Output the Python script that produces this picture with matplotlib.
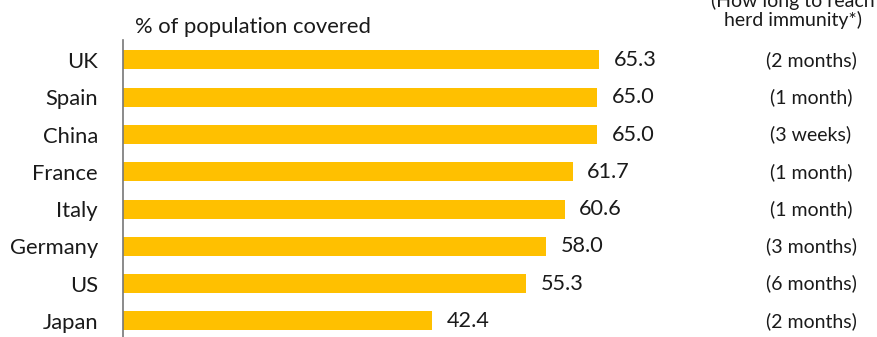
import matplotlib.pyplot as plt
import matplotlib.transforms as mtransforms

# --- data ---
countries = ['UK', 'Spain', 'China', 'France', 'Italy', 'Germany', 'US', 'Japan']
coverage = [65.3, 65.0, 65.0, 61.7, 60.6, 58.0, 55.3, 42.4]
time_to_immunity = ['(2 months)', '(1 month)', '(3 weeks)', '(1 month)',
                    '(1 month)', '(3 months)', '(6 months)', '(2 months)']

W, H = 877, 337
plt.rcParams['font.family'] = ['Lato', 'DejaVu Sans']
text_col = '#1a1a1a'

fig = plt.figure(figsize=(W / 100, H / 100), dpi=100)
# axes from pixel x=123 to right edge, y=40 down to the bottom
ax = fig.add_axes([123 / W, 0, 1 - 123 / W, (H - 40) / H])

pos = list(range(len(countries)))
ax.barh(pos, coverage, height=0.51, color='#FFC000')
ax.set_xlim(0, (W - 123) / 7.29)
ax.set_ylim(7.43, -0.536)

for s in ['top', 'right', 'bottom']:
    ax.spines[s].set_visible(False)
ax.spines['left'].set_color('#777777')
ax.spines['left'].set_linewidth(1.2)
ax.set_xticks([])
ax.set_yticks(pos)
ax.set_yticklabels(countries, fontsize=15.8, color=text_col)
ax.tick_params(axis='y', length=0, pad=18)

# value labels
for p, v in zip(pos, coverage):
    ax.text(v + 2.0, p, f'{v:.1f}', va='center', ha='left', fontsize=15.6, color=text_col)

# right column
trans = mtransforms.blended_transform_factory(fig.transFigure, ax.transData)
for p, t in zip(pos, time_to_immunity):
    ax.text(811 / W, p, t, transform=trans, va='center', ha='center',
            fontsize=14, color=text_col)

# column header, first line partly cut off at the top as in the original
fig.text(793 / W, 1 - 20 / H, 'herd immunity*)', ha='center', va='center',
         fontsize=14, color=text_col)
fig.text(793 / W, 1 - 0.5 / H, '(How long to reach', ha='center', va='center',
         fontsize=14, color=text_col)
fig.text(135 / W, 1 - 27 / H, '% of population covered', ha='left', va='center',
         fontsize=15.8, color=text_col)

fig.savefig('out.png', dpi=100)
